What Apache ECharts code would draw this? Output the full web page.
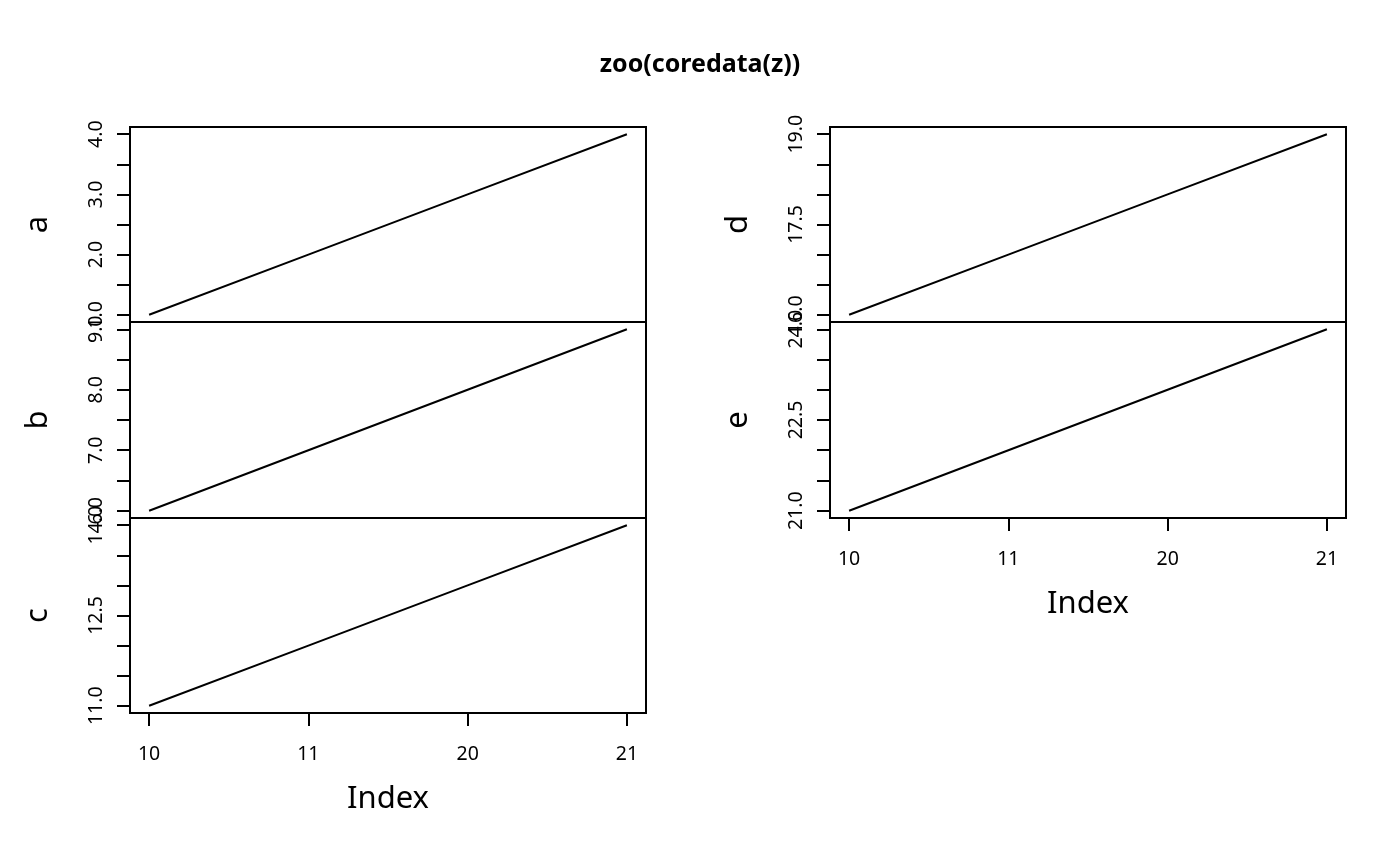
<!DOCTYPE html>
<html>
<head>
<meta charset="utf-8">
<script src="https://cdn.jsdelivr.net/npm/echarts@6/dist/echarts.min.js"></script>
<style>
  html, body { margin: 0; padding: 0; background: #fff; }
  #main { width: 1400px; height: 866px; }
</style>
</head>
<body>
<div id="main"></div>
<script>
// index positions and their labels
var idxPos = [1, 2, 3, 4];
var idxLabels = ['10', '11', '20', '21'];

// series values
var seriesNames = ['a', 'b', 'c', 'd', 'e'];
var aVals = [1, 2, 3, 4];
var bVals = [6, 7, 8, 9];
var cVals = [11, 12, 13, 14];
var dVals = [16, 17, 18, 19];
var eVals = [21, 22, 23, 24];

// y tick marks and labelled ticks
var aTicks = [1, 1.5, 2, 2.5, 3, 3.5, 4];
var aLabels = [1, 2, 3, 4];
var bTicks = [6, 6.5, 7, 7.5, 8, 8.5, 9];
var bLabels = [6, 7, 8, 9];
var cTicks = [11, 11.5, 12, 12.5, 13, 13.5, 14];
var cLabels = [11, 12.5, 14];
var dTicks = [16, 16.5, 17, 17.5, 18, 18.5, 19];
var dLabels = [16, 17.5, 19];
var eTicks = [21, 21.5, 22, 22.5, 23, 23.5, 24];
var eLabels = [21, 22.5, 24];

var font = 'Noto Sans';
var panels = [
  { vals: aVals, ticks: aTicks, labels: aLabels, left: 130, top: 127, h: 195, xAxis: false },
  { vals: bVals, ticks: bTicks, labels: bLabels, left: 130, top: 322, h: 196, xAxis: false },
  { vals: cVals, ticks: cTicks, labels: cLabels, left: 130, top: 518, h: 195, xAxis: true },
  { vals: dVals, ticks: dTicks, labels: dLabels, left: 830, top: 127, h: 195, xAxis: false },
  { vals: eVals, ticks: eTicks, labels: eLabels, left: 830, top: 322, h: 196, xAxis: true }
];

// R pads each axis range by 4%
function pad(arr) {
  var lo = Math.min.apply(null, arr), hi = Math.max.apply(null, arr);
  var d = (hi - lo) * 0.04;
  return [lo - d, hi + d];
}

var grids = [], xAxes = [], yAxes = [], series = [];
panels.forEach(function (p, i) {
  grids.push({
    left: p.left, top: p.top, width: 516, height: p.h,
    show: true, borderColor: '#000', borderWidth: 2,
    backgroundColor: 'transparent', containLabel: false, outerBoundsMode: 'none'
  });
  var xr = pad(idxPos);
  xAxes.push({
    type: 'value', gridIndex: i, min: xr[0], max: xr[1],
    show: p.xAxis,
    name: 'Index', nameLocation: 'middle', nameGap: 71,
    nameTextStyle: { fontFamily: font, fontSize: 31, color: '#000' },
    axisLine: { show: false },
    splitLine: { show: false },
    axisTick: { show: true, inside: false, length: 13, customValues: idxPos,
      lineStyle: { color: '#000', width: 2 } },
    axisLabel: { customValues: idxPos, margin: 31, fontFamily: font, fontSize: 19.5, color: '#000',
      formatter: function (v) { return idxLabels[idxPos.indexOf(Math.round(v))] || ''; } }
  });
  var yr = pad(p.vals);
  yAxes.push({
    type: 'value', gridIndex: i, min: yr[0], max: yr[1],
    name: seriesNames[i], nameLocation: 'middle', nameRotate: 90, nameGap: 76,
    nameTextStyle: { fontFamily: font, fontSize: 31, color: '#000' },
    axisLine: { show: false },
    splitLine: { show: false },
    axisTick: { show: true, inside: false, length: 13, customValues: p.ticks,
      lineStyle: { color: '#000', width: 2 } },
    axisLabel: { customValues: p.labels, rotate: 90, margin: 24, fontFamily: font, fontSize: 19.5,
      color: '#000', formatter: function (v) { return v.toFixed(1); } }
  });
  series.push({
    type: 'line', xAxisIndex: i, yAxisIndex: i, showSymbol: false, silent: true,
    animation: false,
    lineStyle: { color: '#000', width: 2 },
    data: idxPos.map(function (x, k) { return [x, p.vals[k]]; })
  });
});

var myChart = echarts.init(document.getElementById('main'));
myChart.setOption({
  animation: false,
  backgroundColor: '#fff',
  title: {
    text: 'zoo(coredata(z))', left: 'center', top: 47,
    textStyle: { fontFamily: font, fontSize: 25, fontWeight: 'bold', color: '#000' }
  },
  grid: grids,
  xAxis: xAxes,
  yAxis: yAxes,
  series: series
});
</script>
</body>
</html>
